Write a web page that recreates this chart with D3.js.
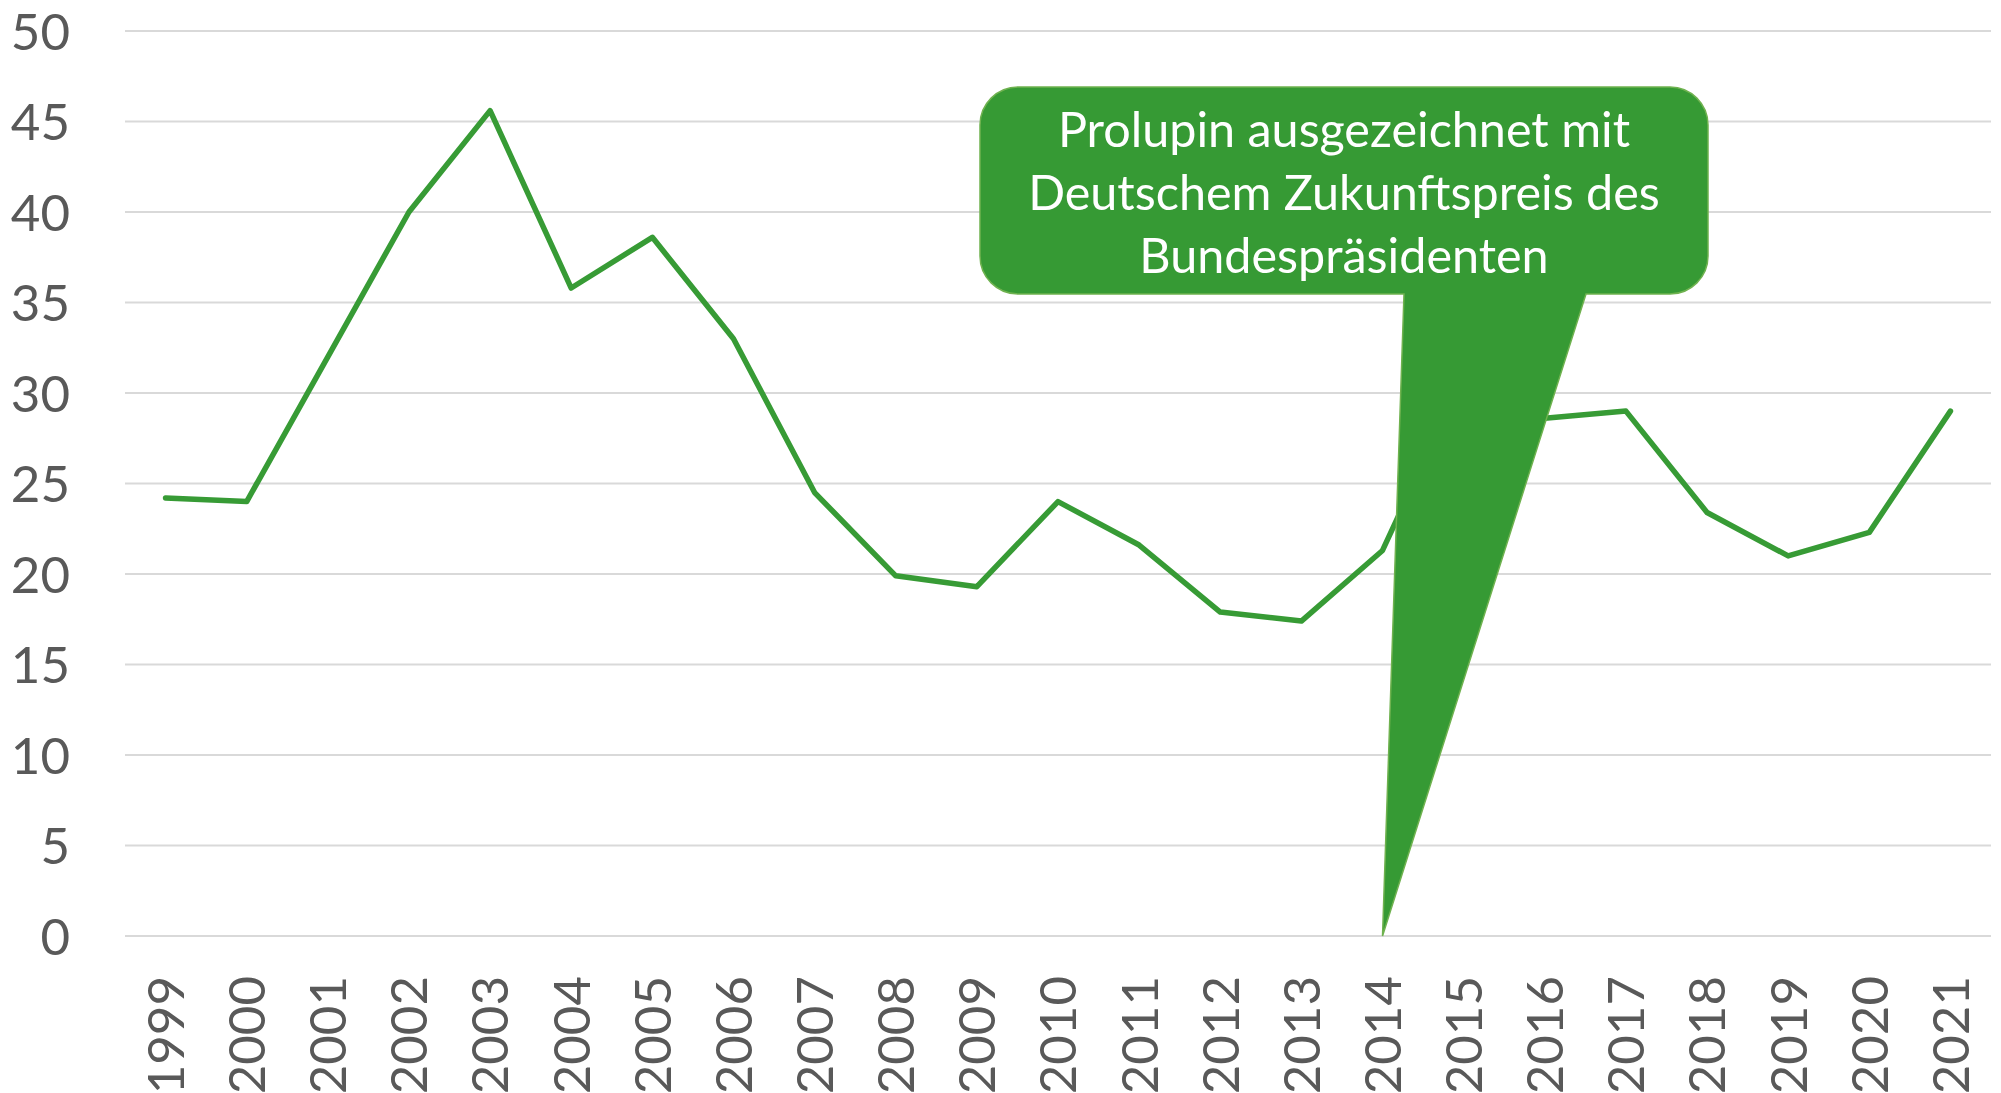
<!DOCTYPE html>
<html>
<head>
<meta charset="utf-8">
<script src="https://cdn.jsdelivr.net/npm/d3@7"></script>
<style>
  html, body { margin: 0; padding: 0; background: #fff; }
  svg text { font-family: Lato, "Open Sans", sans-serif; }
</style>
</head>
<body>
<div id="chart"></div>
<script>
// data
const years = ['1999','2000','2001','2002','2003','2004','2005','2006','2007','2008','2009','2010',
               '2011','2012','2013','2014','2015','2016','2017','2018','2019','2020','2021']
const values = [24.2, 24.0, 32.0, 40.0, 45.6, 35.8, 38.6, 33.0, 24.5, 19.9, 19.3, 24.0,
                21.6, 17.9, 17.4, 21.3, 31.0, 28.6, 29.0, 23.4, 21.0, 22.3, 29.0]
const yTicks = [0, 5, 10, 15, 20, 25, 30, 35, 40, 45, 50]
const calloutLines = ['Prolupin ausgezeichnet mit', 'Deutschem Zukunftspreis des', 'Bundespräsidenten']
const calloutYear = '2014'

const data = years.map((y, i) => ({ year: y, value: values[i] }))

// svg setup
const svgWidth = 2001
const svgHeight = 1093
const margin = { left: 125, right: 10, top: 31, bottom: 157 }
const width = svgWidth - margin.left - margin.right
const height = svgHeight - margin.top - margin.bottom

const svg = d3.select('#chart')
  .append('svg')
  .attr('width', svgWidth)
  .attr('height', svgHeight)
  .append('g')
  .attr('transform', 'translate(' + margin.left + ',' + margin.top + ')')

const green = '#379b35'
const textColor = '#595959'

// scales
const xScale = d3.scaleBand().domain(years).range([0, width])
const xc = d => xScale(d) + xScale.bandwidth() / 2
const yScale = d3.scaleLinear().domain([0, 50]).range([height, 0])

// gridlines
svg.append('g')
  .selectAll('line')
  .data(yTicks)
  .join('line')
  .attr('x1', 0).attr('x2', width)
  .attr('y1', d => yScale(d)).attr('y2', d => yScale(d))
  .attr('stroke', '#d9d9d9')
  .attr('stroke-width', 2)

// y axis labels
const yAxis = d3.axisLeft(yScale).tickValues(yTicks).tickSize(0).tickPadding(55)
svg.append('g').call(yAxis)
  .call(g => g.select('.domain').remove())
  .selectAll('text')
  .attr('fill', textColor)
  .attr('font-size', 51)
  .attr('dy', '0.36em')

// x axis labels (rotated)
const xAxis = d3.axisBottom(xScale).tickSize(0)
svg.append('g')
  .attr('transform', 'translate(0,' + height + ')')
  .call(xAxis)
  .call(g => g.select('.domain').remove())
  .selectAll('text')
  .attr('fill', textColor)
  .attr('font-size', 51)
  .attr('text-anchor', 'end')
  .attr('transform', 'rotate(-90)')
  .attr('x', -40)
  .attr('y', 0)
  .attr('dy', '0.36em')

// line
const line = d3.line().x(d => xc(d.year)).y(d => yScale(d.value))
svg.append('path')
  .datum(data)
  .attr('d', line)
  .attr('fill', 'none')
  .attr('stroke', green)
  .attr('stroke-width', 5.5)
  .attr('stroke-linejoin', 'round')
  .attr('stroke-linecap', 'round')

// callout (wedge round rect), tip at the year on the zero line
const box = { x0: 980 - margin.left, x1: 1708 - margin.left, y0: 87 - margin.top, y1: 294 - margin.top, r: 38 }
const tip = [xc(calloutYear), yScale(0)]
const wedgeL = 1404 - margin.left
const wedgeR = 1586 - margin.left
const p = d3.path()
p.moveTo(box.x0 + box.r, box.y0)
p.lineTo(box.x1 - box.r, box.y0)
p.arcTo(box.x1, box.y0, box.x1, box.y0 + box.r, box.r)
p.lineTo(box.x1, box.y1 - box.r)
p.arcTo(box.x1, box.y1, box.x1 - box.r, box.y1, box.r)
p.lineTo(wedgeR, box.y1)
p.lineTo(tip[0], tip[1])
p.lineTo(wedgeL, box.y1)
p.lineTo(box.x0 + box.r, box.y1)
p.arcTo(box.x0, box.y1, box.x0, box.y1 - box.r, box.r)
p.lineTo(box.x0, box.y0 + box.r)
p.arcTo(box.x0, box.y0, box.x0 + box.r, box.y0, box.r)
p.closePath()

svg.append('path')
  .attr('d', p.toString())
  .attr('fill', '#369a34')
  .attr('stroke', '#6fb24f')
  .attr('stroke-width', 1.5)

svg.append('g')
  .selectAll('text')
  .data(calloutLines)
  .join('text')
  .attr('x', (box.x0 + box.x1) / 2)
  .attr('y', (d, i) => 147 - margin.top + i * 63)
  .attr('text-anchor', 'middle')
  .attr('fill', '#fff')
  .attr('font-size', 48.5)
  .text(d => d)
</script>
</body>
</html>
